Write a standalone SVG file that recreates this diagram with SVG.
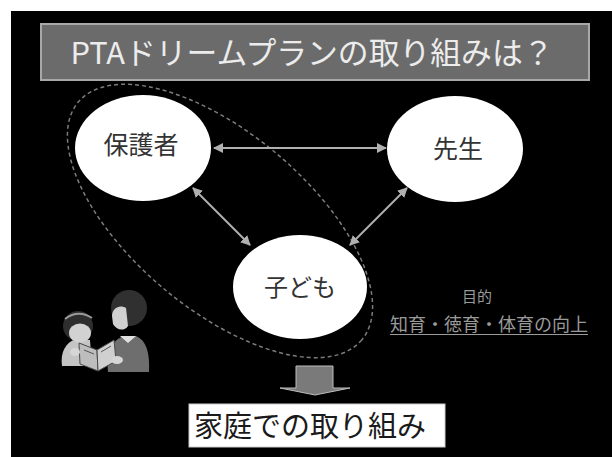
<svg xmlns="http://www.w3.org/2000/svg" width="612" height="457" viewBox="0 0 612 457">
  <defs>
    <style>
      .node { fill: #ffffff; }
      .label { font-family: "Noto Sans CJK JP", "Noto Sans", sans-serif; fill: #333333; text-anchor: middle; }
      .link { stroke: #b0b0b0; stroke-width: 2; fill: none; marker-start: url(#head); marker-end: url(#head); }
      .aim { font-family: "Noto Sans CJK JP", "Noto Sans", sans-serif; fill: #9a9a9a; }
    </style>
    <marker id="head" viewBox="0 0 10 10" refX="9" refY="5" markerWidth="5" markerHeight="5" orient="auto-start-reverse" markerUnits="strokeWidth">
      <path d="M0,0 L10,5 L0,10 Z" fill="#b0b0b0"/>
    </marker>
  </defs>

  <!-- page and slide background -->
  <rect x="0" y="0" width="612" height="457" fill="#ffffff"/>
  <rect x="11" y="11" width="601" height="446" fill="#000000"/>

  <!-- title bar -->
  <g id="title">
    <rect x="41" y="24" width="548" height="56" fill="#6b6b6b" stroke="#a8a8a8" stroke-width="2"/>
    <text x="312" y="64" font-family="Noto Sans CJK JP, Noto Sans, sans-serif" font-size="30.5" fill="#ececec" text-anchor="middle" textLength="483" lengthAdjust="spacingAndGlyphs">PTAドリームプランの取り組みは？</text>
  </g>

  <!-- dashed grouping around guardian and child -->
  <g id="family-group">
    <ellipse cx="220" cy="221" rx="185" ry="88" transform="rotate(40 220 221)" fill="none" stroke="#7c7c7c" stroke-width="1.5" stroke-dasharray="4 3"/>
  </g>

  <!-- connectors -->
  <g id="connectors">
    <line class="link" x1="214" y1="148" x2="386" y2="148"/>
    <line class="link" x1="193" y1="188" x2="250" y2="245"/>
    <line class="link" x1="407" y1="188" x2="350" y2="245"/>
  </g>

  <!-- nodes -->
  <g id="node-guardian">
    <ellipse class="node" cx="143" cy="148" rx="68" ry="53"/>
    <text class="label" x="141" y="154" font-size="25">保護者</text>
  </g>
  <g id="node-teacher">
    <ellipse class="node" cx="455" cy="149" rx="68" ry="53"/>
    <text class="label" x="458" y="158" font-size="25">先生</text>
  </g>
  <g id="node-child">
    <ellipse class="node" cx="300" cy="287" rx="67" ry="52"/>
    <text class="label" x="300" y="296" font-size="24">子ども</text>
  </g>

  <!-- aim note -->
  <g id="aim">
    <text class="aim" x="477" y="302" font-size="15" text-anchor="middle">目的</text>
    <text class="aim" x="489" y="331" font-size="18" text-anchor="middle" textLength="198" lengthAdjust="spacingAndGlyphs">知育・徳育・体育の向上</text>
    <line x1="390" y1="334.5" x2="588" y2="334.5" stroke="#9a9a9a" stroke-width="1"/>
  </g>

  <!-- block arrow down -->
  <g id="down-arrow">
    <path d="M296,366 L333,366 L333,388 L350,388 L315,395 L280,388 L296,388 Z" fill="#7a7a7a" stroke="#bdbdbd" stroke-width="1"/>
  </g>

  <!-- result box -->
  <g id="node-home">
    <rect x="189" y="404" width="256" height="43" fill="#ffffff" stroke="#cccccc" stroke-width="1"/>
    <text x="310" y="437" font-family="Noto Sans CJK JP, Noto Sans, sans-serif" font-size="29" fill="#1a1a1a" text-anchor="middle">家庭での取り組み</text>
  </g>

  <!-- mother and child reading -->
  <g id="reading-pair">
    <!-- child -->
    <path d="M62,366 C60,352 66,342 76,339 L90,340 L92,366 Z" fill="#c4c4c4"/>
    <circle cx="78" cy="326" r="15" fill="#2e2e2e"/>
    <ellipse cx="80" cy="333" rx="11" ry="9.5" fill="#d2d2d2"/>
    <path d="M65,319 Q78,309 92,318" stroke="#9a9a9a" stroke-width="2" fill="none"/>
    <!-- mother -->
    <path d="M108,372 C106,352 112,340 124,336 L136,336 C146,340 150,352 149,372 Z" fill="#6e6e6e"/>
    <path d="M120,336 L128,343 L136,336 Z" fill="#e0e0e0"/>
    <ellipse cx="129" cy="308" rx="18" ry="18" fill="#303030"/>
    <path d="M112,316 C112,308 120,304 126,308 L128,326 C124,332 116,330 113,324 Z" fill="#d0d0d0"/>
    <!-- book -->
    <path d="M79,343 L97,350 L98,371 L80,364 Z" fill="#bdbdbd" stroke="#4a4a4a" stroke-width="1"/>
    <path d="M97,350 L114,340 L116,361 L98,371 Z" fill="#cfcfcf" stroke="#4a4a4a" stroke-width="1"/>
    <line x1="84" y1="350" x2="94" y2="354" stroke="#555555" stroke-width="1"/>
    <line x1="101" y1="352" x2="111" y2="346" stroke="#555555" stroke-width="1"/>
    <!-- hands -->
    <ellipse cx="75" cy="352" rx="5" ry="4" fill="#d6d6d6"/>
    <ellipse cx="117" cy="360" rx="6" ry="4" fill="#d6d6d6"/>
  </g>
</svg>
